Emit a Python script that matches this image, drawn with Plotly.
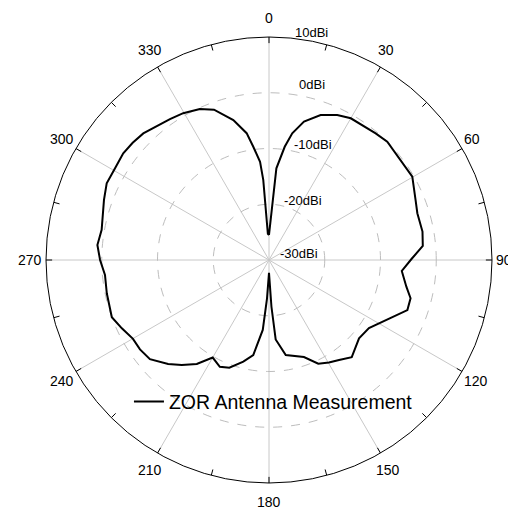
import math
import plotly.graph_objects as go

# measured pattern (angle in degrees clockwise from top, gain in dBi)
theta = [0, 4.6, 7.9, 10.4, 14.2, 19.6, 25.2, 30, 40.1, 45, 59.8, 67.8, 72.5, 79.5,
         84.8, 89.5, 94.7, 101, 105.1, 109.9, 124.3, 131, 139.6, 145, 149.7, 154.6,
         160.2, 170, 175.2, 177, 180, 183, 185.1, 189.4, 194.2, 200.2, 204.7, 210,
         214.8, 219.7, 224.1, 230.2, 235.3, 239.9, 245.1, 250, 258.4, 264.8, 270,
         275, 280.2, 290, 295.3, 300.8, 306.2, 310.7, 315.2, 324.9, 329.7, 335.4,
         339.9, 345.7, 350, 352.1, 354.8, 355.9, 357.5, 360]
gain = [-25.5, -13.5, -9.5, -6.9, -4.4, -2.4, -1.25, -0.65, -0.3, 0.0, -0.26, -1.6, -2.1, -2.0,
        -2.3, -4.4, -6.1, -4.9, -3.7, -3.6, -8.3, -8.6, -7.1, -8.1, -8.7, -9.4,
        -11.5, -12.7, -15.7, -21.6, -27.7, -23.0, -17.4, -12.7, -11.2, -9.4, -8.9, -9.8,
        -7.3, -5.5, -4.0, -2.2, -1.85, -1.8, -0.9, 0.0, -0.3, -0.46, 0.3,
        0.9, 0.5, 1.5, 2.2, 2.15, 2.4, 2.25, 2.0, 0.9, 0.5, -0.2,
        -1.3, -4.1, -6.9, -9.5, -12.3, -15.6, -25.3, -25.5]

r_min, r_max = -30, 10
ring_vals = [-20, -10, 0]
ring_labels = [-30, -20, -10, 0, 10]
angle_ticks = list(range(0, 360, 30))

FONT = "Liberation Sans, Arial, sans-serif"

fig = go.Figure()

fig.add_trace(go.Scatterpolar(
    r=gain, theta=theta, mode='lines',
    line=dict(color='black', width=2),
    name='ZOR Antenna Measurement'
))

# inside tick marks on the outer ring (major every 30, minor every 15)
tr, tt = [], []
for a in range(0, 360, 15):
    tr += [r_max - 1.1, r_max, None]
    tt += [a, a, None]
fig.add_trace(go.Scatterpolar(
    r=tr, theta=tt, mode='lines', line=dict(color='black', width=1),
    showlegend=False, hoverinfo='skip'
))

# page body adds an 8px offset, so the figure is 8px smaller than the window
fig.update_layout(
    width=508, height=501,
    paper_bgcolor='white',
    margin=dict(l=38, r=24, t=29, b=26),
    font=dict(family=FONT, size=14, color='black'),
    polar=dict(
        bgcolor='white',
        domain=dict(x=[0, 1], y=[0, 1]),
        radialaxis=dict(
            range=[r_min, r_max], tickvals=ring_vals,
            showticklabels=False, ticks='', showline=False,
            gridcolor='#bdbdbd', griddash='dash', gridwidth=1,
        ),
        angularaxis=dict(
            rotation=90, direction='clockwise',
            tickvals=angle_ticks, showticklabels=False, ticks='',
            showline=True, linecolor='black', linewidth=1,
            gridcolor='#c8c8c8', gridwidth=1,
        ),
    ),
    showlegend=True,
    legend=dict(
        x=0.186, y=0.182, xanchor='left', yanchor='middle',
        bgcolor='rgba(0,0,0,0)', font=dict(size=19.5, family=FONT),
    ),
)

# angle labels placed just outside the outer circle (relative to its radius)
ring_x, ring_y = 1.052, 1.087
for a in angle_ticks:
    t = math.radians(a)
    txt = str(a)
    fig.add_annotation(
        x=0.5 + 0.5 * ring_x * math.sin(t),
        y=0.5 + 0.5 * ring_y * math.cos(t),
        xref='paper', yref='paper', text=txt, showarrow=False,
        xanchor='center', yanchor='middle',
        xshift=math.sin(t) * max(len(txt) - 2, 0) * 4,
        font=dict(size=14, family=FONT, color='black'),
    )

# radial ring labels
label_shift = [(9, 7), (13, 4), (23, 4), (28, 8), (24, 5)]
for v, (dx, dy) in zip(ring_labels, label_shift):
    fig.add_annotation(
        x=0.5, y=0.5 + 0.5 * (v - r_min) / (r_max - r_min),
        xref='paper', yref='paper', text=f'{v}dBi', showarrow=False,
        xanchor='left', yanchor='middle', xshift=dx, yshift=dy,
        font=dict(size=13, family=FONT, color='black'),
    )

fig.write_html("out.html")
